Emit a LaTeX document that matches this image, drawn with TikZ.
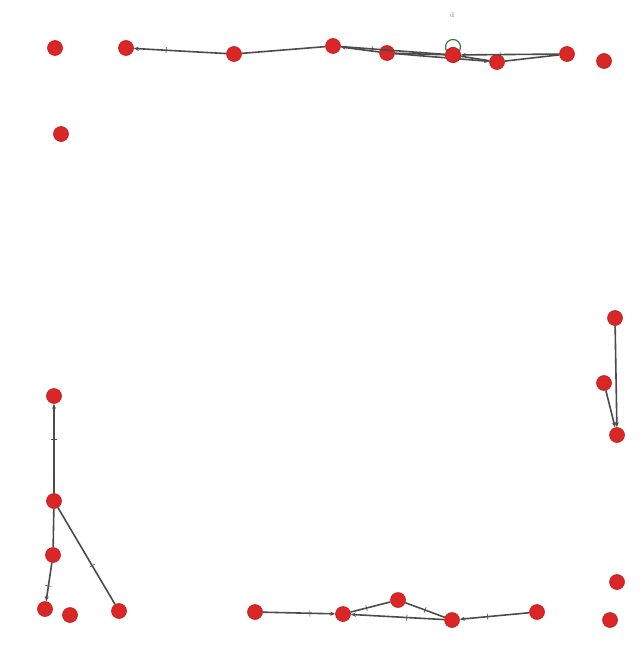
\documentclass[tikz,border=0pt]{standalone}
\usetikzlibrary{arrows.meta}
\definecolor{nodered}{RGB}{218,38,38}
\definecolor{noderim}{RGB}{190,30,30}
\definecolor{edgegray}{RGB}{75,75,75}
\definecolor{loopgreen}{RGB}{60,120,60}
\begin{document}
\begin{tikzpicture}[x=1pt,y=-1pt,
  vtx/.style={circle,fill=nodered,draw=noderim,line width=0.6pt,minimum size=15pt,inner sep=0pt},
  edge/.style={draw=edgegray,line width=1.6pt},
  arr/.style={edge,-{Stealth[length=5pt,width=4pt]}},
  tick/.style={sloped,draw=edgegray,line width=0.6pt,minimum width=0pt,minimum height=6pt,inner sep=0pt}]
\useasboundingbox (0,0) rectangle (643,647);
% top row
\node[vtx] (n1) at (55,48) {};
\node[vtx] (n2) at (126,48) {};
\node[vtx] (n3) at (234,54) {};
\node[vtx] (n4) at (333,46) {};
\node[vtx] (n5) at (387,53) {};
\node[vtx] (n6) at (453,55) {};
\node[vtx] (n7) at (497,62) {};
\node[vtx] (n8) at (567,54) {};
\node[vtx] (n9) at (604,61) {};
\node[vtx] (n10) at (61,134) {};
% right
\node[vtx] (n11) at (615,318) {};
\node[vtx] (n12) at (604,383) {};
\node[vtx] (n13) at (617,435) {};
% left bottom
\node[vtx] (n14) at (54,396) {};
\node[vtx] (n15) at (54,501) {};
\node[vtx] (n16) at (53,555) {};
\node[vtx] (n17) at (45,609) {};
\node[vtx] (n18) at (70,615) {};
\node[vtx] (n19) at (119,611) {};
% bottom row
\node[vtx] (n20) at (255,612) {};
\node[vtx] (n21) at (343,614) {};
\node[vtx] (n22) at (398,600) {};
\node[vtx] (n23) at (452,620) {};
\node[vtx] (n24) at (537,612) {};
\node[vtx] (n25) at (617,582) {};
\node[vtx] (n26) at (610,620) {};
% label
\node[text=gray,font=\scriptsize] (lbl) at (452,15) {d};
% edges top
\path[arr] (n3) -- node[tick,pos=0.65] (t1) {} (n2);
\path[edge] (n3) -- (n4);
\path[arr] (n5) -- (n4);
\path[edge] (n4) -- node[tick,pos=0.3] (t2) {} (n6);
\path[edge] (n5) -- node[tick,pos=0.5] (t3) {} (n6);
\path[edge] (n6) -- (n7);
\path[edge] (n7) -- (n8);
\path[arr] (n8) -- node[tick,pos=0.6] (t4) {} (n6);
\path[arr] (n5) -- (n7);
\draw[loopgreen,line width=1.2pt] (453,47) circle[radius=7.5pt];
\node[vtx] at (n6) {};
% right edges
\path[arr] (n11) -- (n13);
\path[arr] (n12) -- (n13);
% left bottom edges
\path[arr] (n15) -- node[tick,pos=0.6] (t5) {} (n14);
\path[edge] (n15) -- (n16);
\path[arr] (n16) -- node[tick,pos=0.6] (t6) {} (n17);
\path[edge] (n15) -- node[tick,pos=0.6] (t7) {} (n19);
% bottom edges
\path[arr] (n20) -- node[tick,pos=0.65] (t8) {} (n21);
\path[edge] (n21) -- node[tick,pos=0.4] (t9) {} (n22);
\path[edge] (n22) -- node[tick,pos=0.5] (t10) {} (n23);
\path[arr] (n23) -- node[tick,pos=0.4] (t11) {} (n21);
\path[arr] (n24) -- node[tick,pos=0.6] (t12) {} (n23);
\end{tikzpicture}
\end{document}
